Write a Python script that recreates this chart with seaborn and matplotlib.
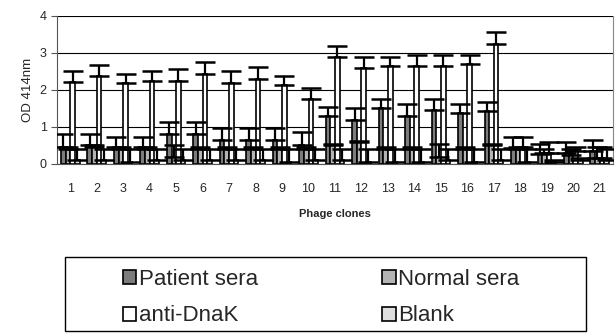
import matplotlib
matplotlib.use("Agg")
import matplotlib.pyplot as plt
import pandas as pd
import seaborn as sns
from matplotlib.patches import Rectangle

clones = [str(i) for i in range(1, 22)]
series = ["Patient sera", "Normal sera", "anti-DnaK", "Blank"]

patient = [0.45, 0.52, 0.45, 0.45, 0.80, 0.80, 0.65, 0.65, 0.65, 0.52, 1.30,
           1.18, 1.50, 1.30, 1.45, 1.38, 1.42, 0.42, 0.28, 0.30, 0.35]
patient_err = [0.35, 0.28, 0.27, 0.27, 0.32, 0.32, 0.33, 0.33, 0.33, 0.33, 0.25,
               0.32, 0.25, 0.32, 0.30, 0.24, 0.26, 0.30, 0.27, 0.30, 0.30]
normal = [0.40, 0.45, 0.40, 0.40, 0.20, 0.40, 0.40, 0.40, 0.40, 0.40, 0.50,
          0.60, 0.40, 0.40, 0.20, 0.40, 0.50, 0.40, 0.30, 0.25, 0.15]
normal_err = [0.05, 0.05, 0.05, 0.05, 0.32, 0.05, 0.05, 0.05, 0.05, 0.05, 0.05,
              0.02, 0.05, 0.05, 0.35, 0.05, 0.05, 0.05, 0.10, 0.15, 0.30]
dnak = [2.20, 2.38, 2.18, 2.25, 2.25, 2.43, 2.18, 2.30, 2.12, 1.75, 2.88,
        2.58, 2.63, 2.63, 2.63, 2.70, 3.25, 0.45, 0.30, 0.35, 0.15]
dnak_err = [0.30, 0.30, 0.25, 0.25, 0.30, 0.32, 0.32, 0.32, 0.25, 0.30, 0.30,
            0.30, 0.25, 0.30, 0.30, 0.23, 0.32, 0.27, 0.30, 0.10, 0.30]
blank = [0.10, 0.10, 0.05, 0.10, 0.10, 0.10, 0.10, 0.10, 0.05, 0.10, 0.10,
         0.05, 0.05, 0.05, 0.10, 0.05, 0.10, 0.05, 0.05, 0.10, 0.10]
blank_err = [0.30, 0.30, 0.35, 0.30, 0.30, 0.30, 0.30, 0.30, 0.35, 0.30, 0.30,
             0.35, 0.35, 0.35, 0.30, 0.35, 0.30, 0.35, 0.05, 0.05, 0.30]

values = [patient, normal, dnak, blank]
errors = [patient_err, normal_err, dnak_err, blank_err]
colors = ["#7c7c7c", "#b4b4b4", "#ffffff", "#dedede"]

df = pd.DataFrame({
    "clone": clones * 4,
    "series": [s for s in series for _ in clones],
    "od": patient + normal + dnak + blank,
})

sns.set_style("white")
plt.rcParams["font.family"] = ["Liberation Sans", "DejaVu Sans"]

fig = plt.figure(figsize=(6.15, 3.33), dpi=100)
ax = fig.add_axes([57 / 615, 1 - 164 / 333, (613 - 57) / 615, (164 - 15.7) / 333])

sns.barplot(data=df, x="clone", y="od", hue="series", hue_order=series,
            palette=colors, width=0.7, edgecolor="black", linewidth=1.2,
            saturation=1, errorbar=None, legend=False, ax=ax)

for cont, err in zip(ax.containers, errors):
    xs = [p.get_x() + p.get_width() / 2 for p in cont.patches]
    ys = [p.get_height() for p in cont.patches]
    ax.errorbar(xs, ys, yerr=[[0] * len(err), err], fmt="none", ecolor="black",
                elinewidth=1.6, capsize=7, capthick=1.8, zorder=3)

ax.set_ylim(0, 4)
ax.set_xlim(-0.5, 20.5)
ax.set_yticks([0, 1, 2, 3, 4])
ax.yaxis.grid(True, color="black", linewidth=0.8)
ax.set_axisbelow(True)
ax.spines["top"].set_visible(False)
ax.spines["left"].set_color("#555555")
ax.spines["bottom"].set_color("#555555")
ax.spines["right"].set_color("#888888")
ax.set_xticks(range(21))
ax.set_xticks([i - 0.5 for i in range(22)], minor=True)
ax.tick_params(axis="x", which="major", length=0, pad=14, labelsize=9)
ax.tick_params(axis="x", which="minor", length=4, color="#555555", direction="out")
ax.tick_params(axis="y", length=4, color="#555555", direction="out", labelsize=9, left=True)
ax.set_xlabel("Phage clones", fontsize=8, fontweight="bold", labelpad=10)
ax.set_ylabel("OD 414nm", fontsize=9.5)

handles = [Rectangle((0, 0), 1, 1, facecolor=c, edgecolor="black", linewidth=1.2)
           for c in colors]
# matplotlib fills legend columns first; reorder to get rows like the reference
order = [0, 2, 1, 3]
fig.legend([handles[i] for i in order], [series[i] for i in order],
           loc="center", bbox_to_anchor=(0.522, 0.106),
           ncol=2, frameon=False, fontsize=16, handlelength=0.6, handleheight=0.6,
           handletextpad=0.1, columnspacing=5.6, labelspacing=0.7)
fig.patches.append(Rectangle((65 / 615, 2 / 333), (586 - 65) / 615, (331 - 257) / 333,
                             transform=fig.transFigure, fill=False,
                             edgecolor="black", linewidth=1))

fig.savefig("out.png", dpi=100)
